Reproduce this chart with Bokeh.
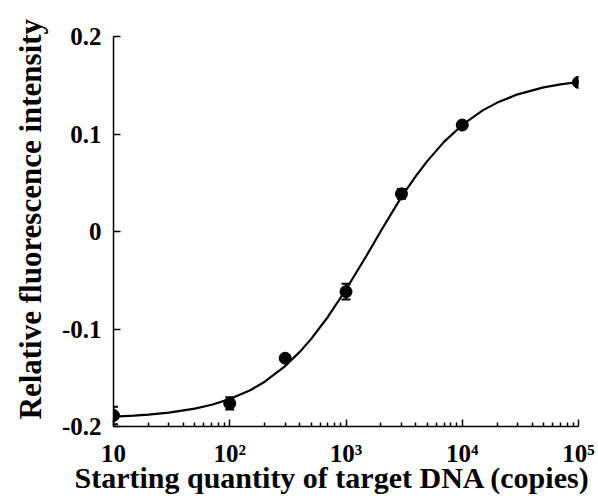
from bokeh.plotting import figure
from bokeh.models import ColumnDataSource, Whisker, TeeHead, FixedTicker, Title
from bokeh.embed import file_html
from bokeh.resources import INLINE

# measured points
copies = [10, 100, 300, 1000, 3000, 10000, 100000]
intensity = [-0.1887, -0.1763, -0.130, -0.0617, 0.0386, 0.1092, 0.153]
error = [0.009, 0.0063, 0.002, 0.008, 0.005, 0.002, 0.001]

# fitted curve
curve_x = [10, 15, 20, 30, 50, 70, 100, 150, 200, 300, 400, 500, 700, 1000,
           1500, 2000, 3000, 4000, 5000, 7000, 10000, 15000, 20000, 30000,
           50000, 70000, 100000]
curve_y = [-0.1899, -0.1888, -0.1878, -0.1857, -0.1817, -0.1777, -0.1719,
           -0.1628, -0.1541, -0.1380, -0.1235, -0.1104, -0.0874, -0.0595,
           -0.0249, 0.0008, 0.0355, 0.0570, 0.0722, 0.0922, 0.1093, 0.1242,
           0.1322, 0.1407, 0.1478, 0.1509, 0.1533]

x_ticks = [10, 100, 1000, 10000, 100000]
x_tick_labels = ["10", "10\u00b2", "10\u00b3", "10\u2074", "10\u2075"]
y_ticks = [-0.2, -0.1, 0, 0.1, 0.2]
y_tick_labels = ["-0.2", "-0.1", "0", "0.1", "0.2"]
x_title = "Starting quantity of target DNA (copies)"
y_title = "Relative fluorescence intensity"

FONT = "Liberation Serif"

p = figure(width=598, height=498, x_axis_type="log",
           x_range=(10, 100000), y_range=(-0.2, 0.2),
           output_backend="svg", toolbar_location=None,
           min_border_left=111, min_border_right=20, min_border_top=36,
           min_border_bottom=72)
p.outline_line_color = None
p.xgrid.grid_line_color = None
p.ygrid.grid_line_color = None
p.background_fill_color = "white"
p.border_fill_color = "white"

p.line(curve_x, curve_y, line_color="black", line_width=2.2)

upper = [v + e for v, e in zip(intensity, error)]
lower = [v - e for v, e in zip(intensity, error)]
src = ColumnDataSource(dict(x=copies, y=intensity, upper=upper, lower=lower))
w = Whisker(base="x", upper="upper", lower="lower", source=src,
            line_color="black", line_width=2,
            upper_head=TeeHead(size=9, line_width=2, line_color="black"),
            lower_head=TeeHead(size=9, line_width=2, line_color="black"))
p.add_layout(w)
p.scatter("x", "y", source=src, size=12, color="black")

minor = [m * 10 ** k for k in range(1, 5) for m in range(2, 10)]
xa = p.xaxis[0]
xa.ticker = FixedTicker(ticks=x_ticks, minor_ticks=minor)
xa.major_label_overrides = {t: l for t, l in zip(x_ticks, x_tick_labels)}
ya = p.yaxis[0]
ya.ticker = FixedTicker(ticks=y_ticks)
ya.major_label_overrides = {t: l for t, l in zip(y_ticks, y_tick_labels)}

for ax in (xa, ya):
    ax.axis_line_color = "black"
    ax.axis_line_width = 1.5
    ax.major_tick_line_color = "black"
    ax.major_tick_line_width = 1.5
    ax.minor_tick_line_color = "black"
    ax.minor_tick_line_width = 1.5
    ax.major_tick_in = 7
    ax.major_tick_out = 0
    ax.minor_tick_in = 4
    ax.minor_tick_out = 0
    ax.major_label_text_font = FONT
    ax.major_label_text_font_style = "bold"
    ax.major_label_text_font_size = "25px"
    ax.major_label_text_color = "black"

ya.minor_tick_line_color = None
ya.major_label_standoff = 12
xa.major_label_standoff = 13

p.add_layout(Title(text=x_title, align="left", offset=-39,
                   vertical_align="bottom", standoff=-21,
                   text_font=FONT, text_font_style="bold",
                   text_font_size="30px", text_color="black"), "below")
p.add_layout(Title(text=y_title, align="left", offset=7,
                   vertical_align="bottom", standoff=21,
                   text_font=FONT, text_font_style="bold",
                   text_font_size="31px", text_color="black"), "left")

open("out.html", "w").write(file_html(p, INLINE))
